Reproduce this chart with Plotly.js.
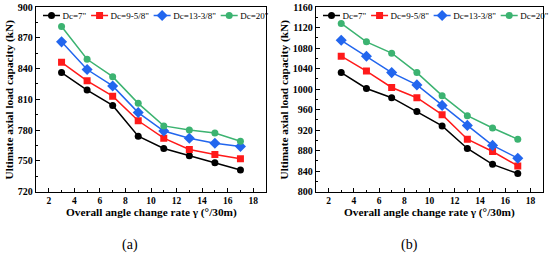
<!DOCTYPE html>
<html>
<head>
<meta charset="utf-8">
<script src="https://cdn.plot.ly/plotly-3.0.1.min.js"></script>
<style>
  html, body { margin: 0; padding: 0; background: #fff; }
  #draw { width: 550px; height: 254px; }
</style>
</head>
<body>
<div id="draw"></div>
<script>
// overall angle change rate (deg/30m)
const gamma = [3, 5, 7, 9, 11, 13, 15, 17]
const names = ['Dc=7"', 'Dc=9-5/8"', 'Dc=13-3/8"', 'Dc=20"']

// (a) ultimate axial load capacity, kN
const capA_7 = [836, 819, 804, 774, 762, 755, 748, 741]
const capA_958 = [846, 828, 813, 789, 772, 761, 756, 752]
const capA_1338 = [866, 839, 823, 797, 779, 772, 767, 764]
const capA_20 = [881, 849, 832, 806, 784, 780, 777, 769]

// (b) ultimate axial load capacity, kN
const capB_7 = [1032, 1001, 983, 956, 928, 884, 853, 835]
const capB_958 = [1064, 1035, 1003, 983, 950, 902, 878, 850]
const capB_1338 = [1095, 1064, 1032, 1008, 968, 929, 890, 865]
const capB_20 = [1128, 1092, 1070, 1032, 987, 948, 924, 902]

const colors = ['#000000', '#ff1a1a', '#2266ee', '#3cb371']
const symbols = ['circle', 'square', 'diamond', 'circle']

const serif = 'Liberation Serif, Times New Roman, serif'

const makeTraces = (series, xa, ya, leg) => series.map((ys, i) => ({
  x: gamma,
  y: ys,
  xaxis: xa,
  yaxis: ya,
  name: names[i],
  legend: leg,
  showlegend: true,
  type: 'scatter',
  mode: 'lines+markers',
  line: {color: colors[i], width: 1.5},
  marker: {color: colors[i], symbol: symbols[i], size: symbols[i] === 'diamond' ? 8.5 : 7}
}))

const axisX = (domain, anchor) => ({
  domain: domain,
  anchor: anchor,
  range: [1, 19],
  tick0: 2,
  dtick: 2,
  ticks: 'inside',
  ticklen: 4,
  tickwidth: 1,
  tickcolor: '#000',
  minor: {dtick: 1, ticks: 'inside', ticklen: 2, tickcolor: '#000'},
  showline: true,
  mirror: true,
  linecolor: '#000',
  linewidth: 1.2,
  showgrid: false,
  zeroline: false,
  tickfont: {family: serif, size: 9.5, weight: 'bold', color: '#000'}
})

const axisY = (domain, anchor, range, dtick) => ({
  domain: domain,
  anchor: anchor,
  range: range,
  tick0: range[0],
  dtick: dtick,
  ticks: 'inside',
  ticklen: 4,
  tickwidth: 1,
  tickcolor: '#000',
  minor: {dtick: dtick / 2, ticks: 'inside', ticklen: 2, tickcolor: '#000'},
  showline: true,
  mirror: true,
  linecolor: '#000',
  linewidth: 1.2,
  showgrid: false,
  zeroline: false,
  tickfont: {family: serif, size: 10, weight: 'bold', color: '#000'}
})

const W = 550, H = 254
const yDom = [1 - 191.5 / H, 1 - 7 / H]

const titleFont = {family: serif, size: 11.3, weight: 'bold', color: '#000'}
const ann = (text, x, y, extra) => Object.assign({
  text: text, x: x / W, y: 1 - y / H, xref: 'paper', yref: 'paper',
  showarrow: false, xanchor: 'center', yanchor: 'middle', font: titleFont
}, extra || {})

// squeeze legend entries into one short row like the original figure
const fixLegend = (gd) => {
  ['legend', 'legend2'].forEach(id => {
    const g = gd.querySelector('g.' + id)
    if (!g) return
    g.querySelectorAll('[clip-path]').forEach(n => n.removeAttribute('clip-path'))
    const items = g.querySelectorAll('g.traces')
    let x = 0
    let y0 = null
    items.forEach(item => {
      const m = /translate\(([-\d.]+)[ ,]*([-\d.]+)\)/.exec(item.getAttribute('transform') || '')
      if (y0 === null) y0 = m ? +m[2] : 10
      item.querySelectorAll('.legendlines path').forEach(p => p.setAttribute('d', 'M0,0h17'))
      item.querySelectorAll('.legendpoints path').forEach(p => p.setAttribute('transform', 'translate(8.5,0)'))
      const t = item.querySelector('text.legendtext') || item.querySelector('text')
      let w = 0
      if (t) {
        t.setAttribute('x', 19.5)
        t.querySelectorAll('tspan[x]').forEach(s => s.setAttribute('x', 19.5))
        w = t.getBBox().width
      }
      item.setAttribute('transform', `translate(${x},${y0})`)
      x += 19.5 + w + 4.5
    })
  })
}

const main = () => {
  const data = [
    ...makeTraces([capA_7, capA_958, capA_1338, capA_20], 'x', 'y', 'legend'),
    ...makeTraces([capB_7, capB_958, capB_1338, capB_20], 'x2', 'y2', 'legend2')
  ]

  const legendBase = {
    orientation: 'h',
    xanchor: 'left',
    yanchor: 'top',
    y: 1 - 1 / H,
    bgcolor: 'rgba(0,0,0,0)',
    borderwidth: 0,
    font: {family: serif, size: 9, color: '#000'},
    itemwidth: 30,
    entrywidth: 1,
    entrywidthmode: 'pixels'
  }

  const layout = {
    width: W,
    height: H,
    margin: {l: 0, r: 0, t: 0, b: 0, autoexpand: false},
    paper_bgcolor: '#fff',
    plot_bgcolor: '#fff',
    xaxis: axisX([36 / W, 266 / W], 'y'),
    yaxis: axisY(yDom, 'x', [720, 900], 30),
    xaxis2: axisX([316 / W, 543 / W], 'y2'),
    yaxis2: axisY(yDom, 'x2', [800, 1160], 40),
    legend: Object.assign({}, legendBase, {x: 43 / W}),
    legend2: Object.assign({}, legendBase, {x: 323 / W}),
    annotations: [
      ann('Overall angle change rate γ (°/30m)', 151, 212),
      ann('Overall angle change rate γ (°/30m)', 429.5, 212),
      ann('Ultimate axial load capacity (kN)', 9, 99.5, {textangle: -90}),
      ann('Ultimate axial load capacity (kN)', 284, 99.5, {textangle: -90}),
      ann('(a)', 130, 245, {font: {family: serif, size: 14, color: '#000'}}),
      ann('(b)', 409, 245, {font: {family: serif, size: 14, color: '#000'}})
    ],
    showlegend: true
  }

  Plotly.newPlot('draw', data, layout, {staticPlot: true, displayModeBar: false})
    .then(fixLegend)
}

main()
</script>
</body>
</html>
